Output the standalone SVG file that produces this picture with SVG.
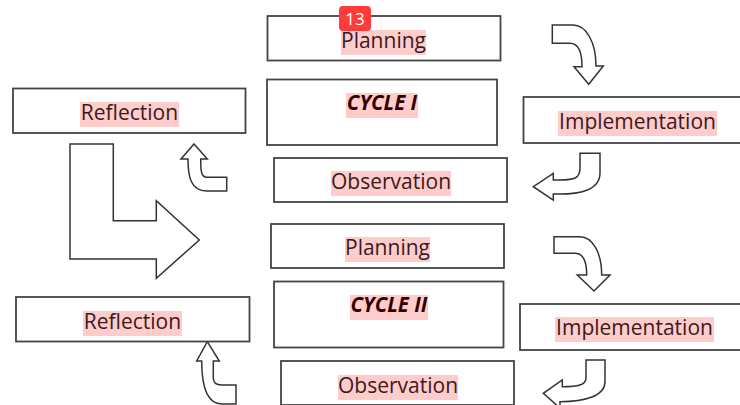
<svg xmlns="http://www.w3.org/2000/svg" width="740" height="405" viewBox="0 0 740 405">
<style>
.box{fill:#fff;stroke:#444;stroke-width:1.8}
.hl{fill:#ffcccc}
.t{font-family:"Open Sans","Liberation Sans",sans-serif;font-size:21px;fill:#3a1a1a;text-anchor:middle}
.c{font-family:"Open Sans","Liberation Sans",sans-serif;font-size:20.5px;font-weight:700;font-style:italic;fill:#300;text-anchor:middle}
.arr{fill:#fff;stroke:#333;stroke-width:1.5;stroke-linejoin:miter}
</style>
<rect width="740" height="405" fill="#fff"/>
<g id="connectors">
<path class="arr" d="M552.3 25V43.3H570C580 43.3 582 56 582 66.7H574L588.7 84.3L603.3 66H596C596 42 586 25 573 25Z"/>
<path class="arr" d="M580 153.3H600V173C600 190 580 195 553.3 194V200L533.3 186.7L553.3 173.3V180H560C575 180 580 178 580 168Z"/>
<path class="arr" d="M194 144L207.3 159H200.7C200.7 170 201 177.3 206.7 177.3H226.7V191H206.7C190 191 188 175 188 159H181Z"/>
<path class="arr" d="M70 144H113.3V220.7H156.3V200.7L199.3 240L156.3 278.3V259H70Z"/>
<path class="arr" d="M554 236.7V253.3H575C584 253.3 586.7 263 586.7 275H577.3L594 291L610 275H601.7C601.7 252 592 236.7 580 236.7Z"/>
<path class="arr" d="M586 360H605V381.7C605 396 585 401.7 560 401.7V408L543.3 393.3L562.3 380V386.7C578 386.7 586 385 586 378Z"/>
<path class="arr" d="M207.3 341.7L219.3 361H213.3V378C213.3 383 216 385 221.7 385H236V404H222C206 404 201.7 385 201.7 361H196.7Z"/>
</g>
<g id="planning-1"><rect class="box" x="267.5" y="16" width="233" height="44.5"/><rect class="hl" x="341" y="30" width="85" height="25"/><text class="t" x="383.5" y="48">Planning</text></g>
<g id="cycle-1"><rect class="box" x="267" y="79.5" width="230" height="65.5"/><rect class="hl" x="346" y="93" width="72" height="25"/><text class="c" x="382" y="110">CYCLE I</text></g>
<g id="observation-1"><rect class="box" x="274" y="158" width="233" height="44"/><rect class="hl" x="331" y="171" width="120" height="25"/><text class="t" x="391" y="189">Observation</text></g>
<g id="implementation-1"><rect class="box" x="523.5" y="97" width="220" height="46"/><rect class="hl" x="558" y="111" width="159" height="25"/><text class="t" x="637.5" y="129">Implementation</text></g>
<g id="reflection-1"><rect class="box" x="13" y="88.5" width="232.5" height="44.5"/><rect class="hl" x="80" y="102" width="99" height="25"/><text class="t" x="129.5" y="120">Reflection</text></g>
<g id="planning-2"><rect class="box" x="271" y="224" width="233" height="44"/><rect class="hl" x="345" y="237" width="85" height="25"/><text class="t" x="387.5" y="255">Planning</text></g>
<g id="cycle-2"><rect class="box" x="274" y="281.5" width="229.5" height="66"/><rect class="hl" x="350" y="295" width="78" height="25"/><text class="c" x="389" y="312">CYCLE II</text></g>
<g id="observation-2"><rect class="box" x="281" y="361" width="233" height="44"/><rect class="hl" x="338" y="375" width="120" height="25"/><text class="t" x="398" y="393">Observation</text></g>
<g id="implementation-2"><rect class="box" x="520" y="304" width="224" height="46"/><rect class="hl" x="555" y="317" width="159" height="25"/><text class="t" x="634.5" y="335">Implementation</text></g>
<g id="reflection-2"><rect class="box" x="16" y="297" width="233.5" height="44.5"/><rect class="hl" x="83" y="311" width="99" height="25"/><text class="t" x="132.5" y="329">Reflection</text></g>
<g id="badge"><rect x="339" y="6" width="32" height="25" rx="4" fill="#ff3b3b"/><text x="355" y="24.5" font-family="'Open Sans','Liberation Sans',sans-serif" font-size="17" fill="#fff" text-anchor="middle">13</text></g>
</svg>
